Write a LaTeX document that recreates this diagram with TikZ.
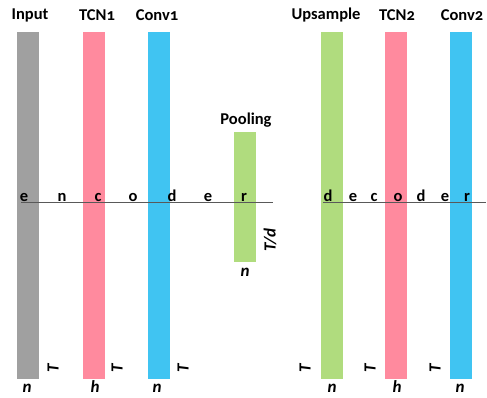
\documentclass[tikz,border=0pt]{standalone}
\usepackage{fontspec}
\setmainfont{Carlito}[Numbers=OldStyle]
\definecolor{cgray}{RGB}{160,160,160}
\definecolor{cpink}{RGB}{255,138,158}
\definecolor{cblue}{RGB}{64,196,242}
\definecolor{cgreen}{RGB}{176,220,126}
\begin{document}
\begin{tikzpicture}[x=1pt,y=-1pt,
  bar/.style={fill=#1,draw=none,inner sep=0pt,minimum width=22pt,anchor=north},
  title/.style={font=\fontsize{16.5}{16.5}\selectfont\bfseries,inner sep=0pt},
  letter/.style={font=\fontsize{16.5}{16.5}\selectfont\bfseries,inner sep=0pt,anchor=base},
  dim/.style={font=\fontsize{17}{17}\selectfont\bfseries\itshape,inner sep=0pt},
  axis/.style={draw=black!65,line width=0.8pt}]
\useasboundingbox (0,0) rectangle (487,397);
% bars
\node[bar=cgray,minimum height=347pt] (in) at (28,32) {};
\node[bar=cpink,minimum height=347pt] (tcn1) at (93.5,32) {};
\node[bar=cblue,minimum height=347pt] (conv1) at (158.5,32) {};
\node[bar=cgreen,minimum height=130pt] (pool) at (244.5,132) {};
\node[bar=cgreen,minimum height=347pt] (up) at (332,32) {};
\node[bar=cpink,minimum height=347pt] (tcn2) at (396,32) {};
\node[bar=cblue,minimum height=347pt] (conv2) at (461,32) {};
% titles
\node[title] (tin) at (30,15) {Input};
\node[title] (ttcn1) at (97,15) {TCN1};
\node[title] (tconv1) at (157,15) {Conv1};
\node[title] (tpool) at (246,120) {Pooling};
\node[title] (tup) at (326,15) {Upsample};
\node[title] (ttcn2) at (397,15) {TCN2};
\node[title] (tconv2) at (462,15) {Conv2};
% lines
\coordinate (e1) at (21,202.5);
\coordinate (e2) at (273,202.5);
\coordinate (d1) at (323,202.5);
\coordinate (d2) at (486,202.5);
\draw[axis] (e1) -- (e2);
\draw[axis] (d1) -- (d2);
% encoder letters
\foreach \c/\x [count=\i] in {e/24,n/62,c/98,o/133,d/172,e/208,r/244}
  \node[letter] (enc\i) at (\x,201) {\c};
\foreach \c/\x [count=\i] in {d/328,e/353,c/374,o/398,d/421,e/445,r/467}
  \node[letter] (dec\i) at (\x,201) {\c};
% dimensions
\node[dim] (nin) at (27,388) {n};
\node[dim] (htcn1) at (95,387) {h};
\node[dim] (nconv1) at (157,388) {n};
\node[dim,rotate=90] (Tin) at (53,368) {T};
\node[dim,rotate=90] (Ttcn1) at (117,368) {T};
\node[dim,rotate=90] (Tconv1) at (183,368) {T};
\node[dim] (npool) at (245,272) {n};
\node[dim,rotate=90] (Tpool) at (270,240) {T/d};
\node[dim,rotate=90] (Tup) at (305,368) {T};
\node[dim,rotate=90] (Ttcn2) at (370,368) {T};
\node[dim,rotate=90] (Tconv2) at (435,368) {T};
\node[dim] (nup) at (332,388) {n};
\node[dim] (htcn2) at (397,387) {h};
\node[dim] (nconv2) at (460,388) {n};
\end{tikzpicture}
\end{document}
